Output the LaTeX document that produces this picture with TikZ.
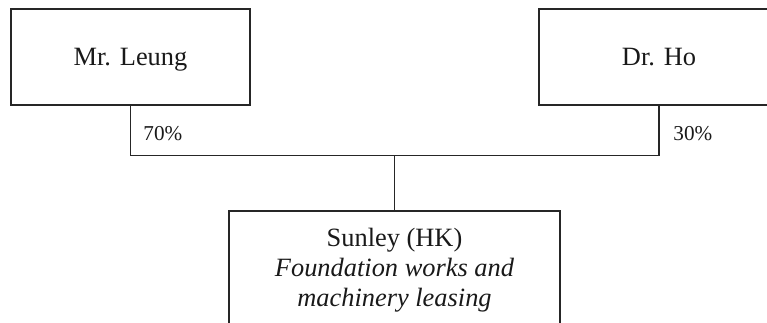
\documentclass[tikz,border=0pt]{standalone}
\usepackage{fontspec}
\setmainfont{Liberation Serif}
\begin{document}
\begin{tikzpicture}[x=0.5pt,y=-0.5pt,
  box/.style={draw=black!85,line width=0.75pt,rectangle,inner sep=0pt},
  conn/.style={draw=black!85,line width=0.75pt},
  big/.style={font=\fontsize{13.2pt}{15pt}\selectfont,text=black!90,inner sep=0pt},
  pct/.style={font=\fontsize{10.6pt}{12pt}\selectfont,text=black!90,inner sep=0pt,anchor=base west}]
\useasboundingbox (0,0) rectangle (767,322);
\clip (0,0) rectangle (767,322);
\node[box,minimum width=239*0.5pt,minimum height=96*0.5pt] (leung) at (130.5,57) {};
\node[big,anchor=base] (leungt) at (130.5,65) {Mr. Leung};
\node[box,minimum width=240*0.5pt,minimum height=96*0.5pt] (ho) at (659,57) {};
\node[big,anchor=base] (hot) at (659,65) {Dr. Ho};
\node[box,minimum width=331*0.5pt,minimum height=140*0.5pt] (sun) at (394.5,281) {};
\node[big,anchor=base] (sun1) at (394.5,246.5) {Sunley (HK)};
\node[big,anchor=base] (sun2) at (394.5,276.5) {\itshape Foundation works and};
\node[big,anchor=base] (sun3) at (394.5,306.5) {\itshape machinery leasing};
\coordinate (jl) at (leung.south |- 0,155.5);
\coordinate (jr) at (ho.south |- 0,155.5);
\coordinate (jm) at (sun.north |- 0,155.5);
\draw[conn] (leung.south) -- (jl) -- (jr) -- (ho.south);
\draw[conn] (jm) -- (sun.north);
\node[pct] (p70) at (143,140) {70\%};
\node[pct] (p30) at (673,140) {30\%};
\end{tikzpicture}
\end{document}
